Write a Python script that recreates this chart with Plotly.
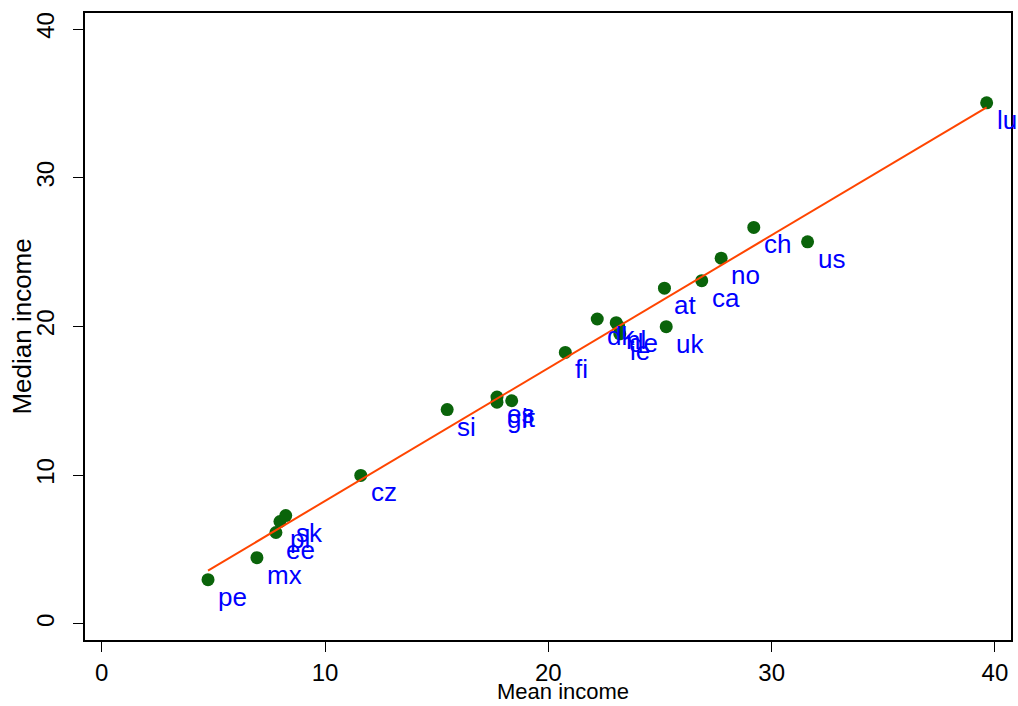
import numpy as np
import plotly.graph_objects as go

countries = ["pe", "mx", "ee", "pl", "sk", "cz", "si", "es", "gr", "it", "fi",
             "dk", "nl", "de", "ie", "uk", "at", "ca", "no", "ch", "us", "lu"]
mean_income = [4.76, 6.95, 7.80, 7.98, 8.24, 11.6, 15.47, 17.7, 17.7, 18.36, 20.76,
               22.19, 23.04, 23.15, 23.2, 25.28, 25.2, 26.87, 27.74, 29.2, 31.61, 39.63]
median_income = [2.97, 4.45, 6.14, 6.88, 7.28, 9.98, 14.41, 15.25, 14.9, 15.0, 18.25,
                 20.5, 20.25, 20.0, 19.5, 19.98, 22.57, 23.08, 24.59, 26.66, 25.69, 35.04]
x_ticks = [0, 10, 20, 30, 40]
y_ticks = [0, 10, 20, 30, 40]
x_title = "Mean income"
y_title = "Median income"

x = np.array(mean_income)
y = np.array(median_income)
slope, intercept = np.polyfit(x, y, 1)
xfit = np.array([x.min(), x.max()])
yfit = intercept + slope * xfit

FONT = "Liberation Sans, Arial, sans-serif"

fig = go.Figure()
fig.add_trace(go.Scatter(x=mean_income, y=median_income, mode="markers",
                         marker=dict(size=13, color="#0a640a"), showlegend=False,
                         hoverinfo="skip"))
fig.add_trace(go.Scatter(x=xfit, y=yfit, mode="lines",
                         line=dict(color="#ff4500", width=2), showlegend=False,
                         hoverinfo="skip"))

for c, xv, yv in zip(countries, mean_income, median_income):
    fig.add_annotation(x=xv, y=yv, text=c, showarrow=False, xanchor="left",
                       yanchor="middle", xshift=8, yshift=-17,
                       font=dict(family=FONT, size=26, color="#0000ff"))

# axis titles
fig.add_annotation(x=0.516, y=-0.082, xref="paper", yref="paper", text=x_title,
                   showarrow=False, xanchor="center", yanchor="middle",
                   font=dict(family=FONT, size=22, color="black"))
fig.add_annotation(x=-0.069, y=0.5, xref="paper", yref="paper", text=y_title,
                   showarrow=False, xanchor="center", yanchor="middle", textangle=-90,
                   font=dict(family=FONT, size=26, color="black"))

fig.update_layout(
    width=1018, height=706,
    margin=dict(l=85, r=7, t=13, b=66, autoexpand=False),
    paper_bgcolor="white", plot_bgcolor="white",
    font=dict(family=FONT, size=22, color="black"),
)
fig.update_xaxes(range=[-0.75, 40.72], tickvals=x_ticks, ticks="outside", ticklen=10,
                 tickwidth=1.2, tickcolor="black", showline=True, linecolor="black",
                 linewidth=1.8, mirror=True, showgrid=False, zeroline=False,
                 automargin=False, tickfont=dict(size=24))
fig.update_yaxes(range=[-1.09, 41.08], tickvals=y_ticks, ticks="outside", ticklen=10,
                 tickwidth=1.2, tickcolor="black", showline=True, linecolor="black",
                 linewidth=1.8, mirror=True, showgrid=False, zeroline=False,
                 tickangle=-90, ticklabelstandoff=10, automargin=False,
                 tickfont=dict(size=24))

fig.write_html("out.html", config={"displayModeBar": False},
               post_script="document.body.style.margin='0';")
